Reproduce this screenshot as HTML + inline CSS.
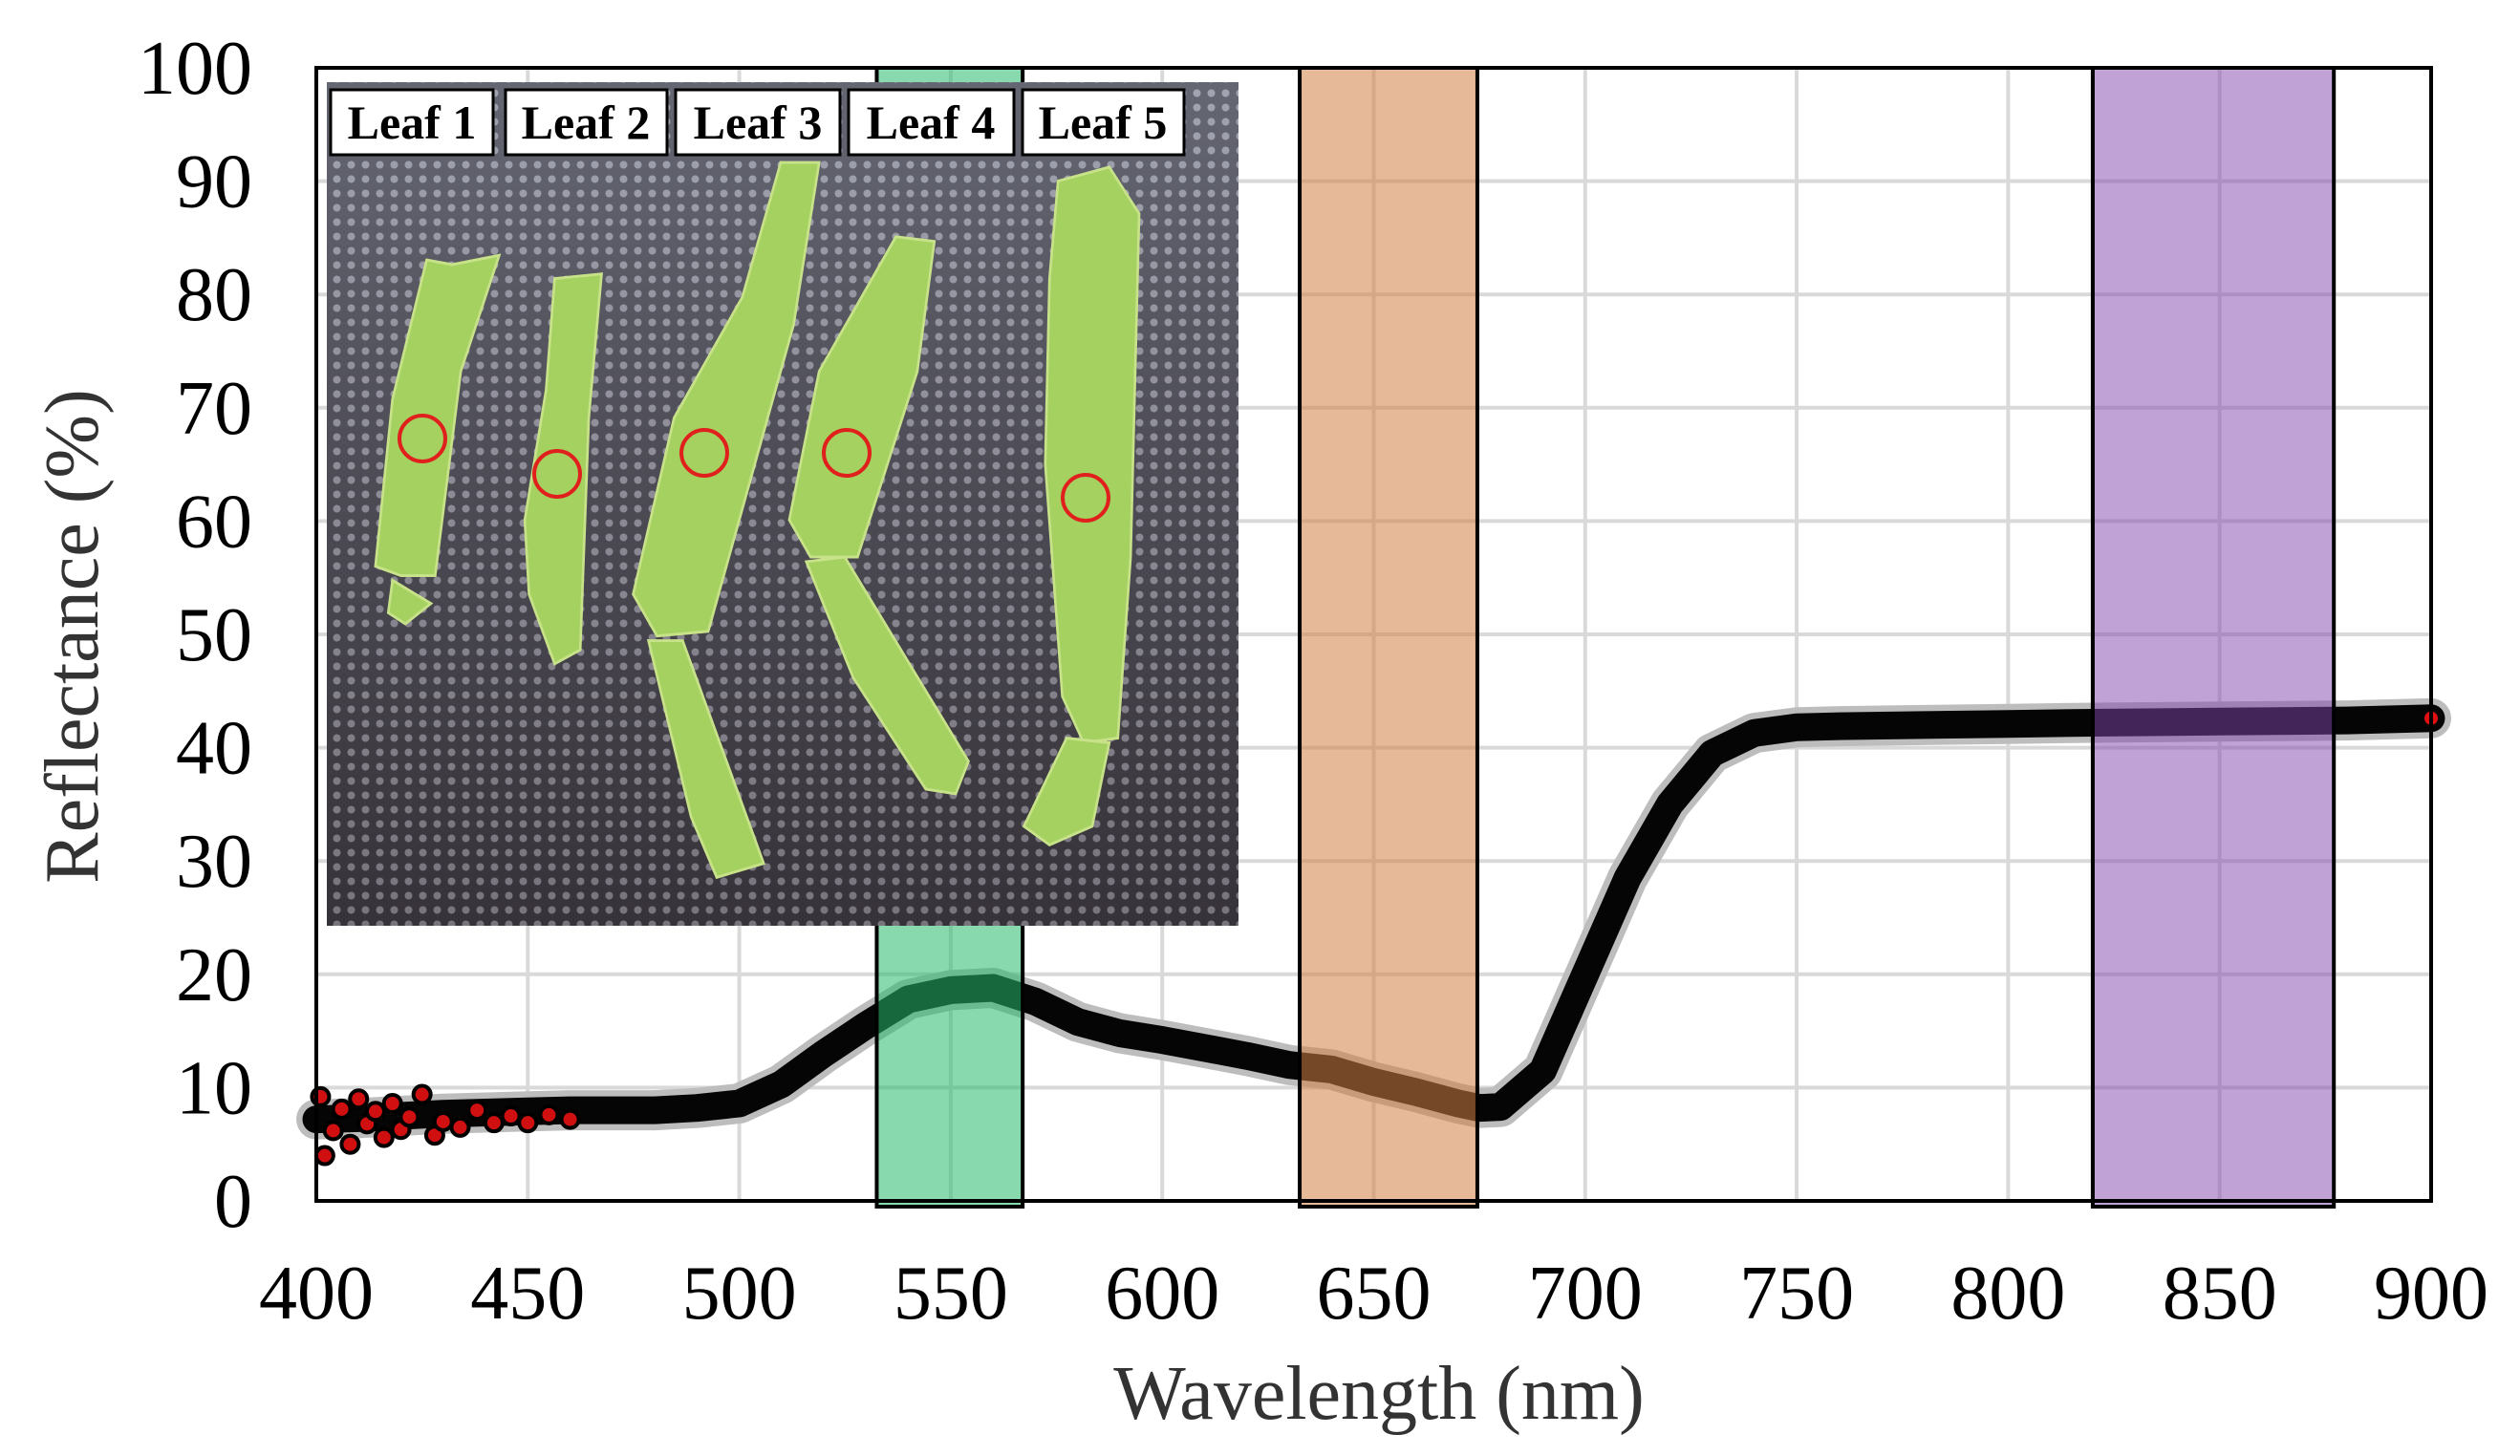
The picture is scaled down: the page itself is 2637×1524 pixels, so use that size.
<!DOCTYPE html>
<html><head><meta charset="utf-8"><style>
html,body{margin:0;padding:0;background:#fff;}
svg{display:block;font-family:"Liberation Serif",serif;}
</style></head><body>
<svg id="chart" width="2637" height="1524" viewBox="0 0 2637 1524" xmlns="http://www.w3.org/2000/svg">
<defs>
<pattern id="dots" width="15" height="15" patternUnits="userSpaceOnUse">
<rect width="15" height="15" fill="#3c3c46"/>
<circle cx="7.5" cy="7.5" r="4" fill="#9a9aa6"/>
</pattern>
<linearGradient id="shade" x1="0" y1="0" x2="0" y2="1">
<stop offset="0" stop-color="#b0b6c6" stop-opacity="0.35"/>
<stop offset="1" stop-color="#2a1c1c" stop-opacity="0.3"/>
</linearGradient>
</defs>
<g id="grid"></g>
<g id="series"></g>
<g id="bands"></g>
<g id="inset">
<rect x="342" y="86" width="954" height="883" fill="url(#dots)"/>
<rect x="342" y="86" width="954" height="883" fill="url(#shade)"/>
<g transform="scale(0.8929,0.9718)" fill="#a4d160" stroke="#c8e28a" stroke-width="3">
<polygon points="500,280 530,285 585,275 540,400 510,620 470,620 440,610 460,430"/>
<polygon points="460,625 505,650 475,672 455,660"/>
<polygon points="650,300 705,295 690,450 680,700 650,715 620,640 615,560 640,420"/>
<polygon points="915,175 960,175 930,350 830,680 770,685 742,640 790,450 870,320"/>
<polygon points="760,690 800,690 895,930 840,945 810,880"/>
<polygon points="1050,255 1095,260 1075,400 1005,600 950,600 925,560 960,400"/>
<polygon points="945,605 990,600 1135,820 1120,855 1085,850 1000,730"/>
<polygon points="1240,195 1300,180 1335,230 1325,600 1310,795 1270,800 1245,750 1225,500 1230,300"/>
<polygon points="1250,795 1300,800 1280,890 1230,910 1200,890"/>
</g>
<g fill="none" stroke="#e0201c" stroke-width="4">
<circle cx="442" cy="459" r="24"/>
<circle cx="583" cy="496" r="24"/>
<circle cx="737" cy="474" r="24"/>
<circle cx="886" cy="474" r="24"/>
<circle cx="1136" cy="521" r="24"/>
</g>
<g font-weight="bold" font-size="50" text-anchor="middle" fill="#000">
<rect x="346" y="94" width="170" height="68" fill="#fff" stroke="#000" stroke-width="3"/>
<text x="431" y="145">Leaf 1</text>
<rect x="529" y="94" width="169" height="68" fill="#fff" stroke="#000" stroke-width="3"/>
<text x="613" y="145">Leaf 2</text>
<rect x="707" y="94" width="172" height="68" fill="#fff" stroke="#000" stroke-width="3"/>
<text x="793" y="145">Leaf 3</text>
<rect x="888" y="94" width="173" height="68" fill="#fff" stroke="#000" stroke-width="3"/>
<text x="974" y="145">Leaf 4</text>
<rect x="1070" y="94" width="169" height="68" fill="#fff" stroke="#000" stroke-width="3"/>
<text x="1154" y="145">Leaf 5</text>
</g>
</g>
<rect x="331" y="71" width="2213" height="1186" fill="none" stroke="#000" stroke-width="4"/>
<g id="axes"></g>
</svg>
<script>
const wavelengths = [400,410,420,430,440,450,460,470,480,490,500,510,520,530,540,550,560,570,580,590,600,610,620,630,640,650,660,670,675,680,690,700,710,720,730,740,750,760,780,800,820,850,880,900];
const reflectance = [7.2,7.3,7.5,7.7,7.8,7.9,8.0,8.0,8.0,8.2,8.6,10.3,13.0,15.5,17.8,18.6,18.8,17.6,15.8,14.8,14.2,13.5,12.8,12.0,11.6,10.5,9.6,8.6,8.2,8.3,11.5,20.0,28.5,35.0,39.5,41.3,41.8,41.9,42.0,42.1,42.2,42.3,42.4,42.6];
const noiseWl = [401,402,404,406,408,410,412,414,416,418,420,422,425,428,430,434,438,442,446,450,455,460];
const noiseVal = [9.2,4.0,6.2,8.1,5.0,9.0,6.8,7.9,5.6,8.6,6.3,7.4,9.4,5.8,7.0,6.5,8.0,6.9,7.5,6.9,7.6,7.2];
const bandStart = [532.5,632.5,820];
const bandEnd = [567,674.5,877];
const bandColors = ['rgba(40,185,110,0.55)','rgba(210,130,70,0.55)','rgba(130,70,175,0.5)'];
const bandNames = ['green-band','red-band','nir-band'];
const xTicks = [400,450,500,550,600,650,700,750,800,850,900];
const yTicks = [0,10,20,30,40,50,60,70,80,90,100];

const X0=331,X1=2544,Y0=1257,Y1=71;
const xs = v => X0 + (v-400)/500*(X1-X0);
const ys = v => Y0 - v/100*(Y0-Y1);
const NS='http://www.w3.org/2000/svg';
function mk(tag, parent){const e=document.createElementNS(NS,tag);parent.appendChild(e);return e;}

const grid=document.getElementById('grid');
xTicks.forEach(t=>{const l=mk('line',grid);


l.setAttribute('x1',xs(t));l.setAttribute('x2',xs(t));l.setAttribute('y1',Y1);l.setAttribute('y2',Y0);l.setAttribute('stroke','#d9d9d9');l.setAttribute('stroke-width','4');});
yTicks.forEach(t=>{const l=mk('line',grid);


l.setAttribute('x1',X0);l.setAttribute('x2',X1);l.setAttribute('y1',ys(t));l.setAttribute('y2',ys(t));l.setAttribute('stroke','#d9d9d9');l.setAttribute('stroke-width','4');});

const ser=document.getElementById('series');
const pts=wavelengths.map((w,i)=>xs(w).toFixed(1)+','+ys(reflectance[i]).toFixed(1)).join(' ');
const halo=mk('polyline',ser);


halo.setAttribute('points',pts);halo.setAttribute('fill','none');halo.setAttribute('stroke','#bdbdbd');halo.setAttribute('stroke-width','42');halo.setAttribute('stroke-linejoin','round');halo.setAttribute('stroke-linecap','round');
const line=mk('polyline',ser);


line.setAttribute('points',pts);line.setAttribute('fill','none');line.setAttribute('stroke','#050505');line.setAttribute('stroke-width','29');line.setAttribute('stroke-linejoin','round');line.setAttribute('stroke-linecap','round');
noiseWl.forEach((w,i)=>{const c=mk('circle',ser);


c.setAttribute('cx',xs(w));c.setAttribute('cy',ys(noiseVal[i]));c.setAttribute('r','9');c.setAttribute('fill','#d01010');c.setAttribute('stroke','#000');c.setAttribute('stroke-width','4');});
const endDot=mk('circle',ser);


endDot.setAttribute('cx',xs(900));endDot.setAttribute('cy',ys(42.6));endDot.setAttribute('r','7');endDot.setAttribute('fill','#e01010');

const bands=document.getElementById('bands');
bandStart.forEach((s,i)=>{const r=mk('rect',bands);


r.setAttribute('x',xs(s));r.setAttribute('y',Y1);r.setAttribute('width',xs(bandEnd[i])-xs(s));r.setAttribute('height',Y0-Y1+6);
r.setAttribute('fill',bandColors[i]);r.setAttribute('stroke','#000');r.setAttribute('stroke-width','4');});

const ax=document.getElementById('axes');
xTicks.forEach(t=>{const tx=mk('text',ax);


tx.setAttribute('x',xs(t));tx.setAttribute('y',1380);tx.setAttribute('font-size','80');tx.setAttribute('text-anchor','middle');tx.textContent=t;});
yTicks.forEach(t=>{const tx=mk('text',ax);


tx.setAttribute('x',264);tx.setAttribute('y',ys(t)+27);tx.setAttribute('font-size','80');tx.setAttribute('text-anchor','end');tx.textContent=t;});
const xt=mk('text',ax);


xt.setAttribute('x',1443);xt.setAttribute('y',1485);xt.setAttribute('font-size','80');xt.setAttribute('text-anchor','middle');xt.setAttribute('fill','#333');xt.textContent='Wavelength (nm)';
const yt=mk('text',ax);


yt.setAttribute('transform','translate(102,666) rotate(-90)');yt.setAttribute('font-size','80');yt.setAttribute('text-anchor','middle');yt.setAttribute('fill','#333');yt.textContent='Reflectance (%)';
</script>
</body></html>
